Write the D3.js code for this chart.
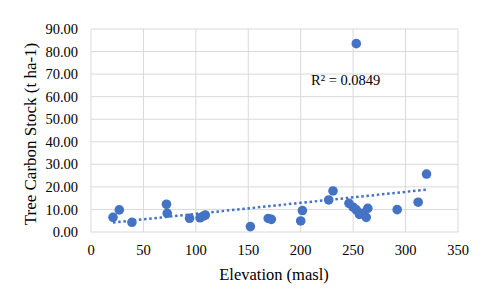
<!DOCTYPE html>
<html><head><meta charset="utf-8">
<script src="https://cdn.jsdelivr.net/npm/d3@7"></script>
<style>body{margin:0;background:#fff}svg{display:block}</style>
</head><body><svg id="c" width="492" height="298"></svg>
<script>
const elevation = [21,27,39,72,72.7,94,104,107,109,152,169,172,200,201.6,226.7,230.8,246,250,253,253,256,259,262.5,264,292,312,320];
const carbon    = [6.5,9.8,4.3,12.3,8.3,6.1,6.3,7.0,7.5,2.4,6.0,5.6,4.9,9.5,14.2,18.2,12.7,11.0,9.8,83.5,7.8,8.3,6.5,10.5,9.9,13.2,25.7];
const xTicks = [0,50,100,150,200,250,300,350];
const yTicks = [0,10,20,30,40,50,60,70,80,90];
const r2Label = "R² = 0.0849";
const xTitle = "Elevation (masl)";
const yTitle = "Tree Carbon Stock (t ha-1)";

const FONT = "Liberation Serif";
const svg = d3.select("#c");
const L=91,R=458,T=29,B=232;
const x = d3.scaleLinear().domain([0,350]).range([L,R]);
const y = d3.scaleLinear().domain([0,90]).range([B,T]);
const grid="#d9d9d9", blue="#4472C4";

svg.append("g").selectAll("line").data(yTicks).join("line")
  .attr("x1",L).attr("x2",R).attr("y1",d=>y(d)).attr("y2",d=>y(d)).attr("stroke",grid).attr("stroke-width",1);
svg.append("g").selectAll("line").data(xTicks).join("line")
  .attr("y1",T).attr("y2",B).attr("x1",d=>x(d)).attr("x2",d=>x(d)).attr("stroke",grid).attr("stroke-width",1);

svg.append("g").selectAll("text").data(yTicks).join("text")
  .attr("x",L-13).attr("y",d=>y(d)).attr("dy","0.35em").attr("text-anchor","end")
  .attr("font-family",FONT).attr("font-size",14.5).text(d=>d.toFixed(2));
svg.append("g").selectAll("text").data(xTicks).join("text")
  .attr("x",d=>x(d)).attr("y",B+18).attr("dy","0.35em").attr("text-anchor","middle")
  .attr("font-family",FONT).attr("font-size",14.5).text(d=>d);

svg.append("text").attr("x",274).attr("y",274).attr("dy","0.35em").attr("text-anchor","middle")
  .attr("font-family",FONT).attr("font-size",16.5).text(xTitle);
svg.append("text").attr("transform",`translate(30,134) rotate(-90)`).attr("dy","0.35em")
  .attr("text-anchor","middle").attr("font-family",FONT).attr("font-size",17).text(yTitle);

// linear regression trendline
const n=elevation.length, mx=d3.mean(elevation), my=d3.mean(carbon);
let sxy=0,sxx=0; for(let i=0;i<n;i++){sxy+=(elevation[i]-mx)*(carbon[i]-my);sxx+=(elevation[i]-mx)**2;}
const b=sxy/sxx, a=my-b*mx;
const x0=d3.min(elevation), x1=d3.max(elevation);
svg.append("line").attr("x1",x(x0)).attr("x2",x(x1)).attr("y1",y(a+b*x0)).attr("y2",y(a+b*x1))
  .attr("stroke",blue).attr("stroke-width",2.5).attr("stroke-dasharray","2.5,2.7");

svg.append("g").selectAll("circle").data(elevation.map((e,i)=>[e,carbon[i]])).join("circle")
  .attr("cx",d=>x(d[0])).attr("cy",d=>y(d[1])).attr("r",4.8).attr("fill",blue);

svg.append("text").attr("x",311).attr("y",80).attr("dy","0.35em").attr("font-family",FONT).attr("font-size",14.5).text(r2Label);
</script></body></html>
